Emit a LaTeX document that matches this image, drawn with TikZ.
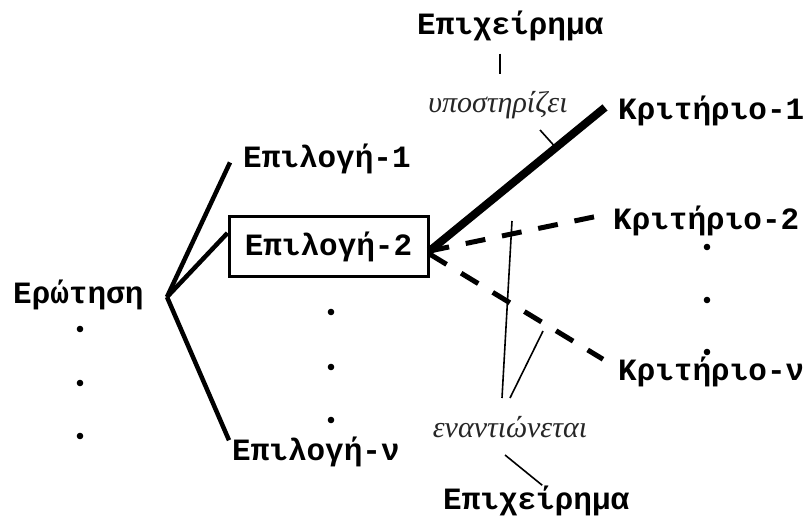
\documentclass[tikz,border=0pt]{standalone}
\usepackage{fontspec}
\usetikzlibrary{calc}
\setmainfont{Liberation Serif}
\newfontfamily\monof{Liberation Mono}
\tikzset{
  mono/.style={inner sep=0pt, anchor=base west, font=\monof\bfseries\fontsize{31}{37}\selectfont},
  lab/.style={inner sep=0pt, anchor=base, text=black!85, font=\itshape\fontsize{30}{36}\selectfont},
  branch/.style={line width=4.5pt},
  strong/.style={line width=8pt},
  contra/.style={line width=5pt, dash pattern=on 20pt off 17pt},
  thin/.style={line width=1.6pt},
  dotmark/.style={fill=black, draw=none},
  optbox/.style={draw, line width=3pt, minimum width=199pt, minimum height=60pt, inner sep=0pt, font=\monof\bfseries\fontsize{31}{37}\selectfont}
}
\begin{document}
\begin{tikzpicture}[x=1pt,y=-1pt]
\useasboundingbox (0,0) rectangle (806,521);
% nodes
\node[mono] (q) at (13,304) {Ερώτηση};
\node[mono] (e1) at (243,168) {Επιλογή-1};
\node[optbox] (e2) at (328.5,247) {Επιλογή-2};
\node[mono] (en) at (232,460) {Επιλογή-ν};
\node[mono] (k1) at (618,120) {Κριτήριο-1};
\node[mono] (k2) at (613,230) {Κριτήριο-2};
\node[mono] (kn) at (618,380) {Κριτήριο-ν};
\node[mono] (a1) at (417,35) {Επιχείρημα};
\node[mono] (a2) at (443,509) {Επιχείρημα};
\node[lab] (sup) at (498,113) {υποστηρίζει};
\node[lab] (opp) at (510,437) {εναντιώνεται};
\coordinate (j) at (167,297);
% branches from question
\draw[branch] (j) -- ([xshift=-13pt,yshift=-3pt]e1.west);
\draw[branch] (j) -- ([yshift=14pt]e2.west);
\draw[branch] (j) -- ([xshift=-3pt,yshift=-4pt]en.north west);
% criteria
\draw[strong] ([xshift=-13pt,yshift=4pt]k1.west) -- coordinate[pos=0.28] (sp) ([yshift=-4pt]e2.east);
\draw[contra] ([yshift=-4pt]e2.east) -- ([xshift=-12pt,yshift=6pt]k2.west);
\draw[contra] ([yshift=-7pt]e2.east) -- ([xshift=-15pt,yshift=-3pt]kn.north west);
% label pointers
\coordinate (p1) at (512,221);
\coordinate (p2) at (543,331);
\draw[thin] ($(a1.south -| sup.base)+(2,12)$) -- ($(sup.base)+(2,-39)$);
\draw[thin] ($(sup.base)+(42,17)$) -- (sp);
\draw[thin] ($(opp.base)+(-8,-39)$) -- (p1);
\draw[thin] ($(opp.base)+(0,-39)$) -- (p2);
\draw[thin] ($(opp.base)+(-5,18)$) -- ([xshift=6pt]a2.north);
% dots
\foreach \yy in {329,383,436} \fill[dotmark] (80,\yy) circle (3.3pt);
\foreach \yy in {312,367,420} \fill[dotmark] (331,\yy) circle (3.3pt);
\foreach \yy in {247,300,352} \fill[dotmark] (707,\yy) circle (3.3pt);
\end{tikzpicture}
\end{document}
